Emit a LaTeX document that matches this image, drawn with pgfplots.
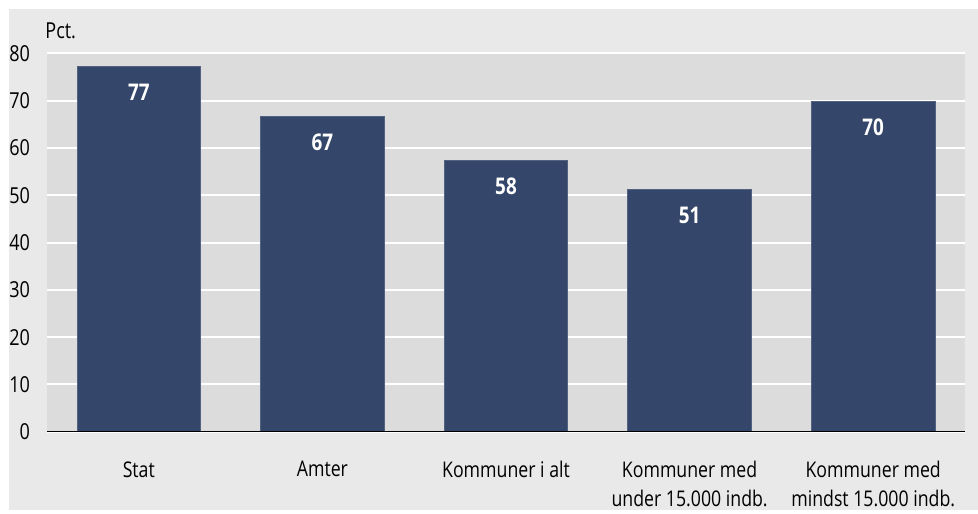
\documentclass[border=0pt]{standalone}
\usepackage{fontspec}
\setmainfont{Open Sans}[FakeStretch=0.82]
\usepackage{pgfplots}
\pgfplotsset{compat=1.18}
\definecolor{outerbg}{HTML}{E9E9E9}
\definecolor{plotbg}{HTML}{DCDCDC}
\definecolor{barblue}{HTML}{344669}
\definecolor{baseline}{HTML}{7C8292}
\begin{document}
\begin{tikzpicture}
% 1 px of the reference = 0.5pt
\fill[white] (-23.5pt,-39.1pt) rectangle (465.5pt,215.9pt);
\fill[outerbg] (-19pt,-39.1pt) rectangle (465.5pt,211.4pt);
\begin{axis}[
  name=main,
  scale only axis, width=459pt, height=189.2pt,
  xmin=-0.5, xmax=4.5, ymin=0, ymax=80,
  ytick={0,10,...,80}, xtick=data,
  xticklabels={Stat, Amter, Kommuner i alt, {Kommuner med\\under 15.000 indb.}, {Kommuner med\\mindst 15.000 indb.}},
  axis background/.style={fill=plotbg},
  axis line style={draw=none}, tick style={draw=none},
  ymajorgrids, major grid style={white, line width=1pt},
  /pgf/number format/assume math mode=true,
  tick label style={font=\fontsize{11}{13}\selectfont},
  y tick label style={xshift=-5pt},
  x tick label style={align=center, font=\fontsize{10.8}{14.5}\selectfont, yshift=-7pt},
  ybar, bar width=0.6725,
  nodes near coords={\pgfplotspointmeta},
  point meta=explicit symbolic,
  every node near coord/.append style={white, font=\bfseries\fontsize{11.5}{13}\selectfont, anchor=center, yshift=-13pt},
]
\addplot[fill=barblue, draw=barblue!85!white, line width=0.4pt] coordinates {(0,77.3) [77] (1,66.6) [67] (2,57.4) [58] (3,51.3) [51] (4,69.8) [70]};
\draw[baseline, line width=0.6pt] (rel axis cs:0,0) -- (rel axis cs:1,0);
\end{axis}
\node[anchor=south west, inner sep=0pt, font=\fontsize{11}{13}\selectfont] at ([xshift=-1pt, yshift=7pt]main.north west) {Pct.};
\end{tikzpicture}
\end{document}
